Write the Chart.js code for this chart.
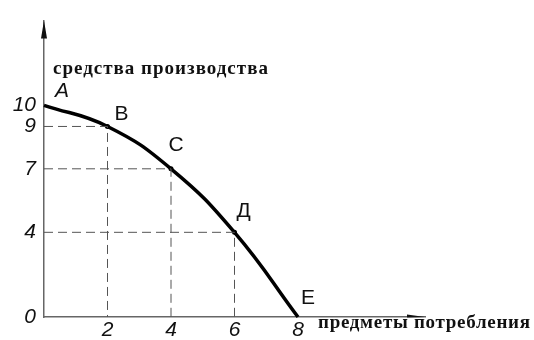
<!DOCTYPE html>
<html>
<head>
<meta charset="utf-8">
<script src="https://cdn.jsdelivr.net/npm/chart.js@4/dist/chart.umd.min.js"></script>
<style>
  html, body { margin: 0; padding: 0; background: #fff; }
  #wrap { width: 534px; height: 340px; }
</style>
</head>
<body>
<div id="wrap"><canvas id="ppf"></canvas></div>
<script>
// production possibilities: consumer goods vs means of production
const goods = [0, 2, 4, 6, 8];
const means = [10, 9, 7, 4, 0];
const pointNames = ["A", "B", "C", "Д", "E"];
const guideIdx = [1, 2, 3]; // B, C, Д get dashed guides
const xTicks = [2, 4, 6, 8];
const yTicks = [0, 4, 7, 9, 10];
const yTitle = "средства производства";
const xTitle = "предметы потребления";

const curve = goods.map((g, i) => ({ x: g, y: means[i] }));

// dashed guides from the axes to B, C, Д
const guides = guideIdx.map((i) => ({
  data: [
    { x: 0, y: means[i] },
    { x: goods[i], y: means[i] },
    { x: goods[i], y: 0 },
  ],
  showLine: true,
  borderColor: "#555",
  borderWidth: 1,
  borderDash: [9, 5],
  pointRadius: 0,
  tension: 0,
  clip: false,
}));

const labelOffsets = [[18, -14], [14, -12], [5, -24], [9, -21], [10, -19]];

const extras = {
  id: "extras",
  afterDatasetsDraw(chart) {
    const ctx = chart.ctx;
    const { left, right, top, bottom } = chart.chartArea;
    ctx.save();

    // arrow heads on the axes
    ctx.fillStyle = "#111";
    ctx.beginPath();
    ctx.moveTo(left, top);
    ctx.lineTo(left - 3, top + 18);
    ctx.lineTo(left + 3, top + 18);
    ctx.closePath();
    ctx.fill();
    ctx.beginPath();
    ctx.moveTo(right, bottom);
    ctx.lineTo(right - 18, bottom - 2.5);
    ctx.lineTo(right - 18, bottom + 0.5);
    ctx.closePath();
    ctx.fill();

    // point names
    const meta = chart.getDatasetMeta(guides.length);
    ctx.fillStyle = "#111";
    ctx.textAlign = "center";
    ctx.textBaseline = "middle";
    pointNames.forEach((name, i) => {
      const el = meta.data[i];
      ctx.font = (i === 0 ? "italic " : "") + "21px 'Liberation Sans', sans-serif";
      ctx.fillText(name, el.x + labelOffsets[i][0], el.y + labelOffsets[i][1]);
    });

    // axis titles
    ctx.font = "bold 19px 'Liberation Serif', serif";
    ctx.textAlign = "left";
    ctx.textBaseline = "alphabetic";
    ctx.letterSpacing = "1px";
    ctx.fillText(yTitle, 53, 74);
    ctx.letterSpacing = "0.7px";
    ctx.fillText(xTitle, 318, 328);
    ctx.restore();
  },
};

const tickFont = { family: "'Liberation Sans', sans-serif", size: 21, style: "italic" };

new Chart(document.getElementById("ppf"), {
  type: "scatter",
  data: {
    datasets: [
      ...guides,
      {
        data: curve,
        showLine: true,
        borderColor: "#000",
        borderWidth: 3.5,
        tension: 0.45,
        pointRadius: [0, 2.5, 2.5, 2.5, 0],
        pointBackgroundColor: "#000",
        pointBorderWidth: 0,
        clip: false,
      },
    ],
  },
  options: {
    responsive: true,
    maintainAspectRatio: false,
    animation: false,
    layout: { padding: { top: 12, right: 109, left: 0, bottom: 0 } },
    plugins: { legend: { display: false }, tooltip: { enabled: false } },
    scales: {
      x: {
        type: "linear",
        min: 0,
        max: 12,
        grid: { display: false, drawTicks: false },
        border: { display: true, color: "#666", width: 1.5 },
        afterBuildTicks: (s) => { s.ticks = xTicks.map((v) => ({ value: v })); },
        afterFit: (s) => { s.height = 23; },
        ticks: { color: "#111", font: tickFont, padding: 1, maxRotation: 0, autoSkip: false },
      },
      y: {
        type: "linear",
        min: 0,
        max: 14,
        grid: { display: false, drawTicks: false },
        border: { display: true, color: "#666", width: 1.5 },
        afterBuildTicks: (s) => { s.ticks = yTicks.map((v) => ({ value: v })); },
        afterFit: (s) => { s.width = 44; },
        ticks: { color: "#111", font: tickFont, padding: 8, autoSkip: false },
      },
    },
  },
  plugins: [extras],
});
</script>
</body>
</html>
